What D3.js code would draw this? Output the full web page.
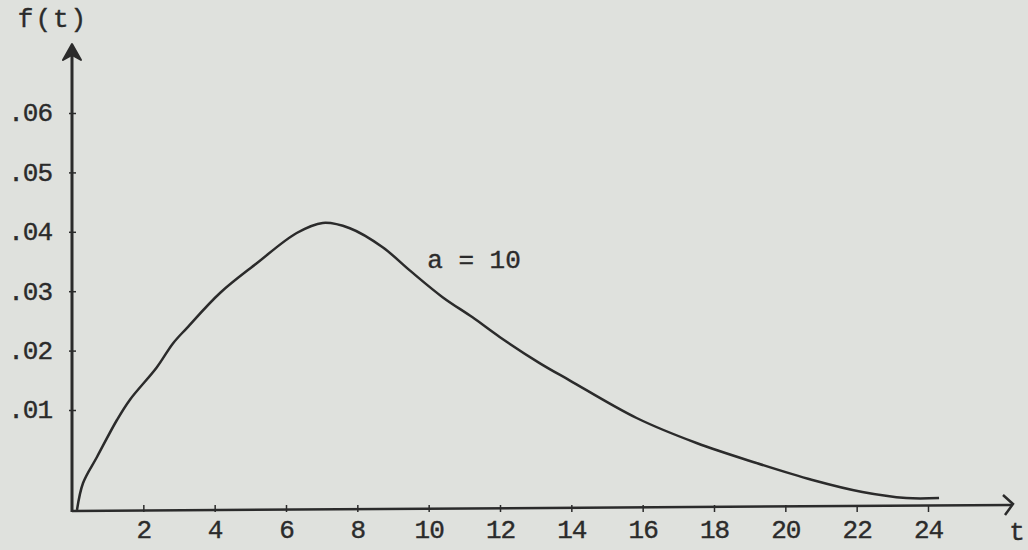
<!DOCTYPE html>
<html>
<head>
<meta charset="utf-8">
<script src="https://cdn.jsdelivr.net/npm/d3@7"></script>
<style>
  body { margin: 0; background: #dfe1dd; }
  svg { display: block; }
  text { font-family: "Liberation Mono", "DejaVu Sans Mono", monospace; fill: #2b2b2b; stroke: #2b2b2b; stroke-width: 0.4px; }
</style>
</head>
<body>
<div id="chart"></div>
<script>
var width = 1028;
var height = 550;

// f(t) for a = 10
var tValues = [0.14, 0.31, 0.7, 1.26, 1.62, 2.38, 2.83, 3.22, 4.15, 5.18, 6.3, 7.03, 7.79, 8.71, 9.47, 10.39, 11.23, 11.99, 13.11, 13.95, 15.83, 17.51, 19.19, 20.76, 22.16, 23.39, 24.31];
var fValues = [0, 0.0027, 0.0053, 0.009, 0.0117, 0.0172, 0.0212, 0.0238, 0.0297, 0.0347, 0.0398, 0.0415, 0.0406, 0.0374, 0.0335, 0.029, 0.0256, 0.0223, 0.0179, 0.015, 0.0092, 0.0067, 0.0047, 0.003, 0.0018, 0.0012, 0.0012];

var xTicks = [2, 4, 6, 8, 10, 12, 14, 16, 18, 20, 22, 24];
var yTicks = [0.01, 0.02, 0.03, 0.04, 0.05, 0.06];
var curveLabel = "a = 10";

var data = tValues.map(function (t, i) { return {t: t, f: fValues[i]}; });

var x = d3.scaleLinear().domain([0, 24]).range([72, 928]);
// hand drawn axis: the first step is longer than the others
var y = d3.scaleLinear().domain([0, 0.01, 0.06]).range([510, 410, 113]);

var svg = d3.select("#chart")
  .append("svg")
    .attr("width", width)
    .attr("height", height);

var ink = "#2b2b2b";

// y axis
var yAxis = svg.append("g")
  .attr("transform", "translate(72,0)")
  .call(d3.axisLeft(y).tickValues(yTicks)
    .tickFormat(function (d) { return d3.format(".2f")(d).replace(/^0/, ""); })
    .tickSize(4).tickPadding(16));
yAxis.select(".domain").remove();
yAxis.selectAll(".tick line").attr("x1", -3).attr("x2", 4).attr("stroke", ink).attr("stroke-width", 1.5);
yAxis.selectAll(".tick text").attr("font-size", 26).attr("font-family", null)
  .attr("dy", "0.3em").attr("letter-spacing", -1);

svg.append("line")
  .attr("x1", 72).attr("y1", 512).attr("x2", 72).attr("y2", 50)
  .attr("stroke", ink).attr("stroke-width", 3);
svg.append("path")
  .attr("d", "M63,60 L72,44 L81,60 L72,55 Z")
  .attr("fill", ink).attr("stroke", ink).attr("stroke-width", 2).attr("stroke-linejoin", "round");

// x axis
var xAxis = svg.append("g")
  .attr("transform", "translate(0,510)")
  .call(d3.axisBottom(x).tickValues(xTicks).tickSize(4).tickPadding(6));
xAxis.select(".domain").remove();
xAxis.selectAll(".tick line").attr("y1", -5).attr("y2", 2).attr("stroke", ink).attr("stroke-width", 1.5);
xAxis.selectAll(".tick text").attr("font-size", 26).attr("font-family", null).attr("letter-spacing", -1);

svg.append("line")
  .attr("x1", 72).attr("y1", 511).attr("x2", 1012).attr("y2", 505)
  .attr("stroke", ink).attr("stroke-width", 2.5);
svg.append("path")
  .attr("d", "M1003,495 L1013,504 L1005,515")
  .attr("fill", "none").attr("stroke", ink).attr("stroke-width", 2.5);

// axis titles
svg.append("text").attr("x", 53).attr("y", 27).attr("text-anchor", "middle")
  .attr("font-size", 26).attr("letter-spacing", 2).text("f(t)");
svg.append("text").attr("x", 1017).attr("y", 540).attr("text-anchor", "middle")
  .attr("font-size", 26).text("t");

// curve
var line = d3.line()
  .x(function (d) { return x(d.t); })
  .y(function (d) { return y(d.f); })
  .curve(d3.curveCatmullRom);

svg.append("path")
  .datum(data)
  .attr("d", line)
  .attr("fill", "none")
  .attr("stroke", ink)
  .attr("stroke-width", 2.5);

svg.append("text").attr("x", 474).attr("y", 268).attr("text-anchor", "middle")
  .attr("font-size", 26).text(curveLabel);
</script>
</body>
</html>
